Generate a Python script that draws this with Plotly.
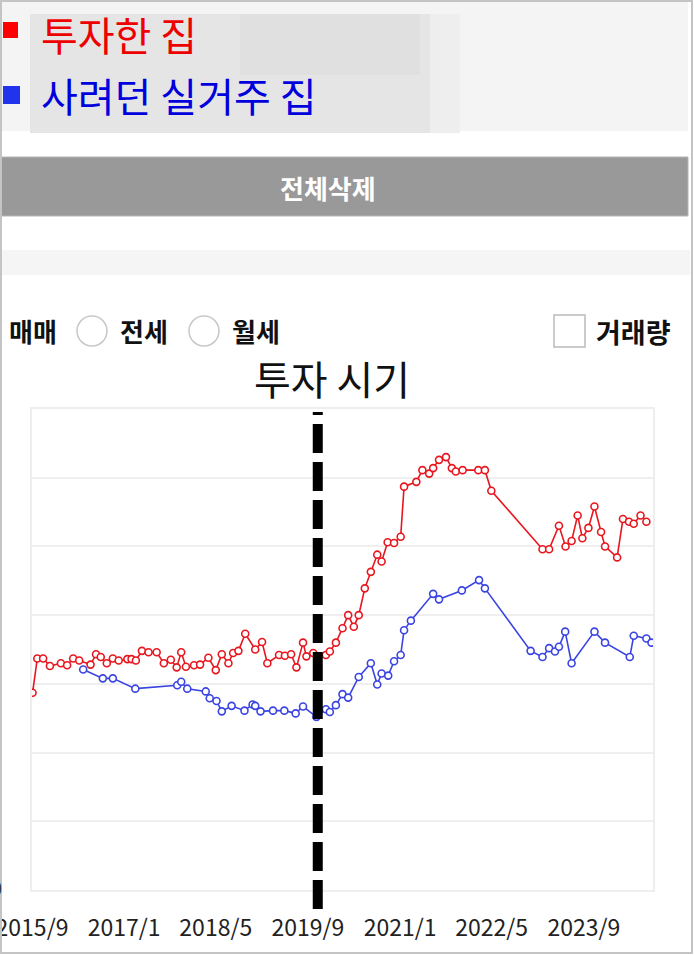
import plotly.graph_objects as go

# ---------------- data ----------------
red_name = "투자한 집"
blue_name = "사려던 실거주 집"

red_dates = ["2015-09-04", "2015-09-29", "2015-10-30", "2015-12-05", "2016-02-01", "2016-03-05",
             "2016-04-06", "2016-05-08", "2016-07-07", "2016-08-05", "2016-08-30", "2016-10-01",
             "2016-11-02", "2016-12-03", "2017-01-18", "2017-02-09", "2017-03-04", "2017-04-05",
             "2017-05-10", "2017-06-22", "2017-07-30", "2017-09-05", "2017-10-06", "2017-10-30",
             "2017-11-24", "2018-01-06", "2018-02-07", "2018-03-23", "2018-05-01", "2018-06-02",
             "2018-07-07", "2018-08-01", "2018-08-29", "2018-10-04", "2018-11-26", "2019-01-01",
             "2019-01-29", "2019-04-01", "2019-05-02", "2019-06-04", "2019-07-02", "2019-08-06",
             "2019-08-24", "2019-09-29", "2019-12-05", "2019-12-26", "2020-01-27", "2020-03-02",
             "2020-04-01", "2020-05-01", "2020-05-27", "2020-06-28", "2020-07-30", "2020-09-02",
             "2020-09-25", "2020-10-27", "2020-11-30", "2021-01-04", "2021-01-22", "2021-03-28",
             "2021-04-29", "2021-06-04", "2021-06-25", "2021-07-26", "2021-09-01", "2021-10-02",
             "2021-10-23", "2021-11-28", "2022-02-19", "2022-03-26", "2022-04-29", "2023-01-25",
             "2023-03-01", "2023-04-22", "2023-05-27", "2023-06-28", "2023-07-30", "2023-08-24",
             "2023-09-25", "2023-10-27", "2023-12-01", "2023-12-22", "2024-02-24", "2024-03-26",
             "2024-04-27", "2024-05-22", "2024-06-27", "2024-07-28"]
red_values = [2.87, 3.37, 3.37, 3.26, 3.30, 3.27, 3.37, 3.34, 3.28, 3.43, 3.39, 3.30,
              3.37, 3.34, 3.36, 3.36, 3.34, 3.48, 3.46, 3.46, 3.30, 3.35, 3.24, 3.46,
              3.25, 3.27, 3.28, 3.38, 3.20, 3.43, 3.30, 3.45, 3.48, 3.73, 3.50, 3.61,
              3.30, 3.42, 3.41, 3.43, 3.24, 3.60, 3.40, 3.45, 3.42, 3.47, 3.60, 3.81,
              4.00, 3.83, 4.00, 4.39, 4.63, 4.88, 4.78, 5.06, 5.05, 5.14, 5.87, 5.94,
              6.11, 6.06, 6.14, 6.26, 6.30, 6.14, 6.09, 6.11, 6.11, 6.11, 5.81, 4.96,
              4.96, 5.30, 5.00, 5.08, 5.45, 5.12, 5.27, 5.58, 5.21, 5.00, 4.84, 5.40,
              5.36, 5.33, 5.45, 5.36]

blue_dates = ["2016-05-29", "2016-09-10", "2016-11-02", "2017-03-01", "2017-10-09", "2017-10-30",
              "2017-12-01", "2018-03-09", "2018-03-30", "2018-05-05", "2018-06-02", "2018-07-24",
              "2018-09-30", "2018-11-12", "2018-11-26", "2018-12-24", "2019-02-28", "2019-04-29",
              "2019-06-28", "2019-08-06", "2019-10-16", "2019-12-05", "2019-12-26", "2020-01-27",
              "2020-03-02", "2020-04-01", "2020-05-27", "2020-07-30", "2020-09-02", "2020-09-25",
              "2020-10-30", "2020-11-30", "2021-01-04", "2021-01-22", "2021-02-27", "2021-06-25",
              "2021-07-26", "2021-11-24", "2022-02-23", "2022-03-26", "2022-11-23", "2023-01-25",
              "2023-03-01", "2023-04-01", "2023-04-22", "2023-05-25", "2023-06-28", "2023-10-27",
              "2023-12-22", "2024-05-01", "2024-05-22", "2024-07-28", "2024-08-24"]
blue_values = [3.21, 3.08, 3.08, 2.93, 2.98, 3.03, 2.93, 2.89, 2.79, 2.75, 2.60, 2.68,
               2.61, 2.70, 2.68, 2.60, 2.61, 2.61, 2.57, 2.67, 2.52, 2.63, 2.59, 2.69,
               2.85, 2.80, 3.10, 3.30, 2.99, 3.15, 3.12, 3.33, 3.42, 3.78, 3.92, 4.31,
               4.23, 4.36, 4.51, 4.39, 3.48, 3.39, 3.52, 3.47, 3.54, 3.76, 3.30, 3.76,
               3.60, 3.39, 3.70, 3.66, 3.60]

invest_date = "2019-10-23"
invest_label = "투자 시기"
x_range = ["2015-09-01", "2024-09-01"]
y_range = [0, 7]
tick_start = "2015-09-01"
tick_step = "M16"

price_types = ["매매", "전세", "월세"]
volume_label = "거래량"
delete_label = "전체삭제"

# ---------------- layout helpers ----------------
W, H = 694, 955
L, R, T, B = 32, 653, 409, 890


def px(x):
    return (x - L) / (R - L)


def py(y):
    return (B - y) / (B - T)


RED = "#e8161e"
BLUE = "#3a44e2"
KFONT = "Noto Sans CJK KR"

fig = go.Figure()
fig.add_trace(go.Scatter(
    x=red_dates, y=red_values, name=red_name, mode="lines+markers",
    line=dict(color=RED, width=1.6),
    marker=dict(symbol="circle", size=7, color="white", line=dict(color=RED, width=1.6)),
))
fig.add_trace(go.Scatter(
    x=blue_dates, y=blue_values, name=blue_name, mode="lines+markers",
    line=dict(color=BLUE, width=1.6),
    marker=dict(symbol="circle", size=7, color="white", line=dict(color=BLUE, width=1.6)),
))

shapes = []
annotations = []


def rect(x0, y0, x1, y1, fill, line=None, lw=0, layer="below"):
    shapes.append(dict(type="rect", xref="paper", yref="paper",
                       x0=px(x0), x1=px(x1), y0=py(y1), y1=py(y0),
                       fillcolor=fill, line=dict(color=line or fill, width=lw), layer=layer))


def text(x, y, s, size, color, xanchor="center", bold=False, family=KFONT):
    annotations.append(dict(xref="paper", yref="paper", x=px(x), y=py(y), text=("<b>%s</b>" % s) if bold else s,
                            showarrow=False, xanchor=xanchor, yanchor="middle",
                            font=dict(size=size, color=color, family=family)))


# header panel (blurred grey box approximated with soft layers)
rect(2, 2, 688, 131, "#f4f4f4")
rect(30, 14, 460, 133, "#e9e9e9")
rect(30, 14, 430, 133, "#e5e5e5")
rect(240, 14, 420, 75, "#e0e0e0")
rect(430, 14, 460, 133, "#eeeeee")
rect(3, 22, 18, 38, "#ff0000")
rect(3, 86, 20, 104, "#2233ee")
text(39, 34, red_name, 40, "#ee0000", xanchor="left")
text(39, 95, blue_name, 40, "#0000dd", xanchor="left")

# delete button
rect(0, 157, 688, 216, "#999999", line="#b5b5b5", lw=1)
text(328, 187, delete_label, 26, "white", bold=True)

# light band
rect(2, 250, 690, 275, "#f5f5f5")

# radio row
text(7, 330, price_types[0], 26, "#111111", xanchor="left", bold=True)
for cx in (92, 204):
    shapes.append(dict(type="circle", xref="paper", yref="paper",
                       x0=px(cx - 15), x1=px(cx + 15), y0=py(346), y1=py(316),
                       fillcolor="white", line=dict(color="#c8c8c8", width=1.5)))
text(118, 330, price_types[1], 26, "#111111", xanchor="left", bold=True)
text(230, 330, price_types[2], 26, "#111111", xanchor="left", bold=True)
rect(554, 315, 585, 347, "white", line="#bbbbbb", lw=1.5)
text(594, 331, volume_label, 27, "#111111", xanchor="left", bold=True)

# investment timing label and line
text(332, 378, invest_label, 40, "#111111")
shapes.append(dict(type="line", xref="x", yref="paper", x0=invest_date, x1=invest_date,
                   y0=py(909), y1=py(412), line=dict(color="black", width=10, dash="29px,9px"),
                   layer="above"))

# cut-off y-axis zero label
text(4, 887, "0", 20, "#333333", xanchor="right")

# outer frame
shapes.append(dict(type="rect", xref="paper", yref="paper", x0=px(1), x1=px(692), y0=py(953), y1=py(1),
                   fillcolor="rgba(0,0,0,0)", line=dict(color="#c4c4c4", width=2), layer="above"))

fig.update_layout(
    width=W, height=H,
    margin=dict(l=L, r=W - R, t=T, b=H - B, autoexpand=False),
    paper_bgcolor="white", plot_bgcolor="white",
    showlegend=False,
    shapes=shapes, annotations=annotations,
    font=dict(family=KFONT),
)
fig.update_xaxes(
    type="date", range=x_range, tick0=tick_start, dtick=tick_step, tickformat="%Y/%-m",
    showgrid=False, zeroline=False, showline=True, mirror=True, linecolor="#eeeeee", linewidth=2,
    ticks="", ticklabelstandoff=16, ticklabeloverflow="allow",
    tickfont=dict(size=23, color="#222222", family=KFONT),
)
fig.update_yaxes(
    range=y_range, dtick=1, showgrid=True, gridcolor="#efefef", gridwidth=2, zeroline=False,
    showline=True, mirror=True, linecolor="#eeeeee", linewidth=2, showticklabels=False, ticks="",
)

fig.write_html("out.html", config={"displayModeBar": False},
               post_script="document.body.style.margin='0';document.body.style.overflow='hidden';")
